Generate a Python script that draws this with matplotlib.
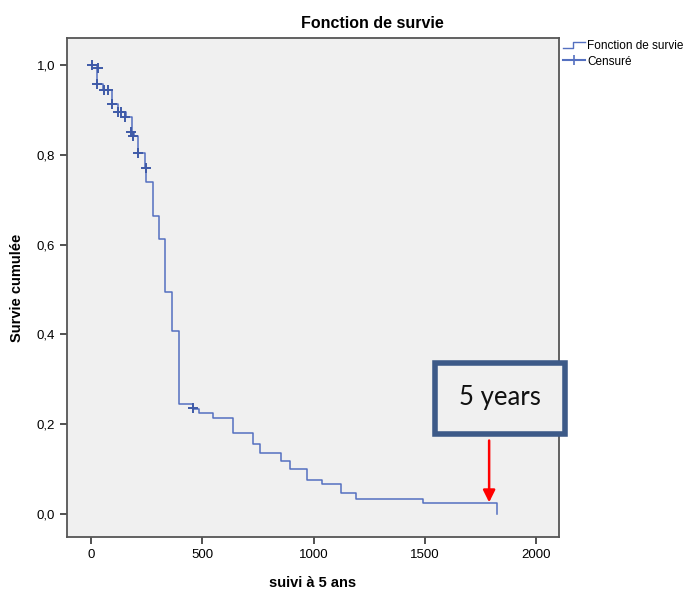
import numpy as np
import matplotlib
matplotlib.use("Agg")
import matplotlib.pyplot as plt
from matplotlib.lines import Line2D
from matplotlib.legend_handler import HandlerBase
from matplotlib.patches import Rectangle

temps = [0, 27, 54, 93, 120, 156, 183, 192, 211, 243, 248, 280, 307, 333, 366, 396,
         457, 487, 550, 637, 730, 760, 854, 894, 969, 1037, 1124, 1190, 1491, 1823]
survie = [1.0, 0.957, 0.944, 0.913, 0.896, 0.885, 0.851, 0.842, 0.803, 0.771, 0.740, 0.664,
          0.612, 0.494, 0.408, 0.246, 0.235, 0.224, 0.213, 0.180, 0.157, 0.135, 0.118,
          0.100, 0.077, 0.068, 0.047, 0.033, 0.024, 0.0]

cens_t = [4, 31, 27, 58, 76, 94, 121, 135, 153, 180, 189, 211, 247, 458]
cens_s = [1.0, 0.993, 0.957, 0.944, 0.944, 0.913, 0.896, 0.896, 0.885, 0.851, 0.842, 0.803, 0.771, 0.236]

xticks = [0, 500, 1000, 1500, 2000]
yticks = [0.0, 0.2, 0.4, 0.6, 0.8, 1.0]
ylabels = ["0,0", "0,2", "0,4", "0,6", "0,8", "1,0"]

bleu = "#5470c0"
plt.rcParams['font.family'] = ['Liberation Sans', 'DejaVu Sans']


class StepHandler(HandlerBase):
    # petite icone en escalier comme dans SPSS
    def create_artists(self, legend, orig, xd, yd, w, h, fontsize, trans):
        xs = [xd, xd + w * 0.45, xd + w * 0.45, xd + w]
        ys = [yd + h * 0.15, yd + h * 0.15, yd + h * 0.85, yd + h * 0.85]
        l = Line2D(xs, ys, color=bleu, lw=1.0, transform=trans)
        return [l]


fig = plt.figure(figsize=(6.97, 5.92), dpi=100)
ax = fig.add_axes([67/697, 55/592, (559-67)/697, (537-38)/592])
ax.set_facecolor("#f0f0f0")

ax.step(temps, survie, where="post", color=bleu, lw=1.1)
ax.plot(cens_t, cens_s, "+", color="#3f5aa8", ms=7, mew=1.4, ls="none")

ax.set_xlim(-108, 2103)
ax.set_ylim(-0.051, 1.06)
ax.set_xticks(xticks)
ax.set_yticks(yticks)
ax.set_yticklabels(ylabels)
ax.tick_params(direction="out", length=5, width=1.2, color="#333333", labelsize=9.5)
for s in ax.spines.values():
    s.set_color("#555555")
    s.set_linewidth(1.3)

ax.set_xlabel("suivi à 5 ans", fontsize=10.5, fontweight="bold", labelpad=11)
ax.set_ylabel("Survie cumulée", fontsize=10.5, fontweight="bold", labelpad=9)
fig.text(372/697, 1 - 23/592, "Fonction de survie", ha="center", va="center",
         fontsize=11.5, fontweight="bold")

h1 = Line2D([], [], color=bleu)
h2 = Line2D([], [], color=bleu, marker="+", ms=7, mew=1.2)
fig.legend([h1, h2], ["Fonction de survie", "Censuré"], loc="upper left",
           bbox_to_anchor=(563/697, 1 - 40/592), frameon=False, fontsize=8.5,
           handlelength=1.9, handletextpad=0.15, borderaxespad=0, borderpad=0,
           labelspacing=0.3, handler_map={h1: StepHandler()})

## annotation 5 ans
ax.annotate("", xy=(1789, 0.02), xytext=(1789, 0.17),
            arrowprops=dict(arrowstyle="-|>", color="red", lw=1.8, mutation_scale=18))
rect = Rectangle((435/697, 1 - 434/592), 130/697, 71/592, transform=fig.transFigure,
                 facecolor="#f0f0f0", edgecolor="#3d5a88", lw=4, zorder=5)
fig.patches.append(rect)
fig.text(500/697, 1 - 397/592, "5 years", ha="center", va="center", fontsize=18.5,
         family=["Lato", "DejaVu Sans"], color="#111111", zorder=6)

fig.savefig("out.png", dpi=100)
